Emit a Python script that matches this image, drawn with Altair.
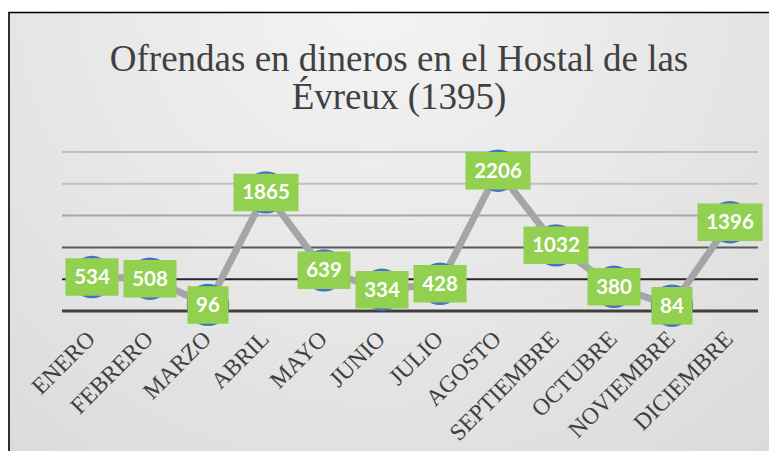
import altair as alt
import pandas as pd

months = ["ENERO", "FEBRERO", "MARZO", "ABRIL", "MAYO", "JUNIO", "JULIO",
          "AGOSTO", "SEPTIEMBRE", "OCTUBRE", "NOVIEMBRE", "DICIEMBRE"]
values = [534, 508, 96, 1865, 639, 334, 428, 2206, 1032, 380, 84, 1396]
grid_values = [0, 500, 1000, 1500, 2000, 2500]
grid_colors = ["#3f3f3f", "#262626", "#595959", "#a6a6a6", "#bfbfbf", "#c0c0c0"]
grid_widths = [3, 2, 2, 2, 2, 2]
title_lines = ["Ofrendas en dineros en el Hostal de las", "Évreux (1395)"]

W, H = 696, 159

df = pd.DataFrame({"mes": months, "valor": values})
df["digits"] = df["valor"].astype(str).str.len()
grid_df = pd.DataFrame({"v": grid_values, "c": grid_colors, "w": grid_widths})
one = pd.DataFrame({"k": [0]})

xs = alt.Scale(type="point", padding=0.5)
ys = alt.Scale(domain=[0, 2500], nice=False, zero=True)

X = alt.X("mes:N", sort=months, scale=xs,
          axis=alt.Axis(title=None, domain=False, ticks=False, grid=False,
                        labelAngle=315, labelAlign="right", labelBaseline="middle",
                        labelPadding=24, labelOffset=-1, labelOverlap=False,
                        labelFont="Liberation Serif", labelFontSize=23.5,
                        labelColor="#404040", labelLimit=400, zindex=5))
Y = alt.Y("valor:Q", scale=ys, axis=None)

gradient = {
    "gradient": "radial",
    "x1": 0.45, "y1": 0.1, "r1": 0,
    "x2": 0.45, "y2": 0.1, "r2": 0.95,
    "stops": [
        {"offset": 0, "color": "#f4f4f4"},
        {"offset": 1, "color": "#d4d4d4"},
    ],
}

bg = alt.Chart(one).mark_rect(fill=gradient, stroke="#000000", strokeWidth=1.6).encode(
    x=alt.value(-54), x2=alt.value(W + 60),
    y=alt.value(-139.5), y2=alt.value(H + 300),
)

title = alt.Chart(one).mark_text(
    font="Liberation Serif", fontSize=37, color="#404040",
    align="center", baseline="alphabetic", lineHeight=38,
).encode(x=alt.value(336), y=alt.value(-81), text=alt.value(title_lines))

grid = alt.Chart(grid_df).mark_rule().encode(
    y=alt.Y("v:Q", scale=ys, axis=None),
    x=alt.value(-1), x2=alt.value(W - 1),
    color=alt.Color("c:N", scale=None),
    strokeWidth=alt.StrokeWidth("w:Q", scale=None),
)

base = alt.Chart(df).encode(x=X, y=Y)

line = base.mark_line(color="#a5a5a5", strokeWidth=7)
dots = base.mark_circle(size=1800, color="#4472c4", opacity=1)

box_w = {2: 41, 3: 53, 4: 65}
boxes = [
    base.transform_filter(alt.datum.digits == n)
        .mark_rect(width=w, height=37.5, color="#92d050")
    for n, w in box_w.items()
]

labels = base.mark_text(
    font="Lato", fontWeight="bold", fontSize=20.5, color="#ffffff",
    align="center", baseline="middle", dy=1,
).encode(text=alt.Text("valor:Q"))

chart = alt.layer(bg, title, grid, line, dots, *boxes, labels).properties(
    width=W, height=H,
    autosize=alt.AutoSizeParams(type="none"),
    padding={"left": 55, "top": 144, "right": 10, "bottom": 140},
).configure_view(stroke=None)

chart.save("out.html", embed_options={"renderer": "svg", "actions": False})
